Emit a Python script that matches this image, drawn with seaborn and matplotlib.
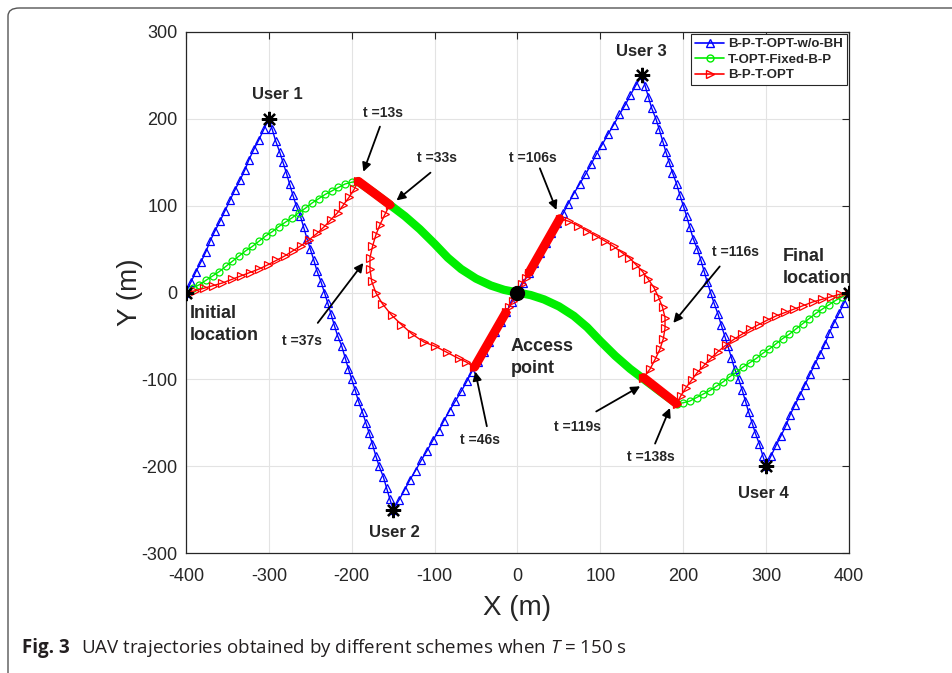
import matplotlib
matplotlib.use('Agg')
import matplotlib.pyplot as plt
import seaborn as sns
from matplotlib.lines import Line2D
from matplotlib.patches import FancyBboxPatch

blue_x = [-400, -394, -388, -382, -376, -371, -365, -359, -353, -347, -341, -335, -329, -324, -318, -312, -306,
          -300, -296, -292, -287, -283, -279, -275, -271, -267, -262, -258, -254, -250, -246, -242, -237, -233,
          -229, -225, -221, -217, -212, -208, -204, -200, -196, -192, -187, -183, -179, -175, -171, -167, -162,
          -158, -154, -150, -143, -136, -130, -123, -116, -109, -102, -95, -89, -82, -75, -68, -61, -55, -48,
          -41, -34, -27, -20, -14, -7, 0, 7, 14, 20, 27, 34, 41, 48, 55, 61, 68, 75, 82, 89, 95, 102, 109, 116,
          123, 130, 136, 143, 150, 154, 158, 162, 167, 171, 175, 179, 183, 187, 192, 196, 200, 204, 208, 212,
          217, 221, 225, 229, 233, 237, 242, 246, 250, 254, 258, 262, 267, 271, 275, 279, 283, 287, 292, 296,
          300, 306, 312, 318, 324, 329, 335, 341, 347, 353, 359, 365, 371, 376, 382, 388, 394, 400]
blue_y = [0, 12, 24, 35, 47, 59, 71, 82, 94, 106, 118, 129, 141, 153, 165, 176, 188,
          200, 188, 175, 162, 150, 138, 125, 112, 100, 88, 75, 62, 50, 38, 25, 12, 0,
          -12, -25, -38, -50, -62, -75, -88, -100, -112, -125, -138, -150, -162, -175, -188, -200, -212,
          -225, -238, -250, -239, -227, -216, -205, -193, -182, -170, -159, -148, -136, -125, -114, -102, -91, -80,
          -68, -57, -45, -34, -23, -11, 0, 11, 23, 34, 45, 57, 68, 80, 91, 102, 114, 125, 136, 148, 159, 170,
          182, 193, 205, 216, 227, 239, 250, 238, 225, 212, 200, 188, 175, 162, 150, 138, 125, 112, 100, 88,
          75, 62, 50, 38, 25, 12, 0, -12, -25, -38, -50, -62, -75, -88, -100, -112, -125, -138, -150, -162,
          -175, -188, -200, -188, -176, -165, -153, -141, -129, -118, -106, -94, -82, -71, -59, -47, -35, -24, -12, 0]

# green: T-OPT-Fixed-B-P, circle parts at both ends
green_in_x = [-400, -392, -384, -376, -368, -360, -352, -344, -336, -328, -320, -312, -304, -296, -288, -280,
              -272, -264, -256, -248, -240, -232, -224, -216, -208, -200, -193]
green_in_y = [0, 5, 9, 14, 19, 24, 30, 36, 42, 48, 53, 59, 65, 70, 76, 81, 86, 92, 97, 103, 108, 113, 117,
              121, 125, 127, 128]
green_out_x = [192, 200, 208, 216, 224, 232, 240, 248, 256, 264, 272, 280, 288, 296, 304, 312, 320, 328, 336,
               344, 352, 360, 368, 376, 384, 392, 400]
green_out_y = [-128, -127, -125, -121, -117, -113, -108, -103, -97, -92, -86, -81, -76, -70, -65, -59, -53,
               -48, -42, -36, -30, -24, -19, -14, -9, -5, 0]
# green hovering part (dense markers -> thick band)
green_hov_x = [-193, -172, -154, -136, -118, -100, -84, -68, -50, -32, -16, 0, 16, 32, 50, 68, 84, 100, 118,
               136, 154, 172, 192]
green_hov_y = [128, 114, 101, 88, 73, 56, 40, 27, 16, 8, 3, 0, -3, -8, -16, -27, -40, -56, -73, -88, -101,
               -114, -128]

# red: B-P-T-OPT
red_x = [-400, -389, -378, -367, -356, -345, -334, -323, -312, -301, -291, -281, -271, -261, -251, -242, -233,
         -225, -217, -210, -203, -197, -192,
         -154, -160, -166, -171, -175, -178, -178, -176, -171, -163, -152, -140, -127, -113, -99, -85, -71, -62, -52,
         -14, -10, -6, -2, 2, 6, 10, 14,
         51, 62, 73, 84, 95, 106, 116, 126, 135, 143, 151, 158, 165, 170, 175, 178, 178, 176, 172, 166, 160, 152,
         192, 197, 203, 210, 217, 225, 233, 242, 251, 261, 271, 281, 291, 301, 312, 323, 334, 345, 356, 367, 378,
         389, 400]
red_y = [0, 2, 5, 8, 11, 15, 19, 23, 27, 32, 37, 42, 48, 54, 61, 68, 76, 84, 92, 101, 110, 119, 128,
         101, 90, 78, 66, 53, 40, 27, 13, 0, -13, -26, -37, -48, -57, -62, -69, -76, -80, -86,
         -23, -17, -10, -3, 3, 10, 17, 23,
         85, 82, 77, 71, 65, 59, 53, 46, 40, 32, 24, 15, 5, -5, -17, -29, -41, -53, -65, -77, -88, -98,
         -128, -119, -110, -101, -92, -84, -76, -68, -61, -54, -48, -42, -37, -32, -27, -23, -19, -15, -11, -8,
         -5, -2, 0]
# red hovering segments
red_hov = [([-192, -154], [128, 101]), ([-52, -14], [-86, -23]), ([14, 51], [23, 85]), ([152, 192], [-98, -128])]

star_x = [-300, -150, 150, 300, -400, 400]
star_y = [200, -250, 250, -200, 0, 0]

users = ['User 1', 'User 2', 'User 3', 'User 4']
user_pos = [(-290, 228), (-148, -276), (149, 277), (297, -232)]

t_labels = ['t =13s', 't =33s', 't =37s', 't =46s', 't =106s', 't =116s', 't =119s', 't =138s']
t_text = [(-162, 207), (-97, 155), (-260, -56), (-45, -170), (18, 155), (263, 47), (72, -155), (161, -190)]
t_tail = [(-166, 191), (-105, 138), (-241, -35), (-37, -154), (27, 143), (244, 30), (95, -137), (166, -174)]
t_tip = [(-186, 139), (-146, 106), (-186, 34), (-51, -91), (47, 95), (188, -35), (148, -108), (184, -133)]

sns.set_style('whitegrid')
plt.rcParams['font.family'] = ['Liberation Sans', 'DejaVu Sans']
plt.rcParams['axes.unicode_minus'] = False
plt.rcParams['mathtext.fontset'] = 'custom'
plt.rcParams['mathtext.it'] = 'Open Sans:italic'
plt.rcParams['mathtext.rm'] = 'Open Sans'

fig = plt.figure(figsize=(9.53, 6.73), dpi=100)
ax = fig.add_axes([186 / 953, 120 / 673, 663 / 953, 521 / 673])

mk = dict(markerfacecolor='none', markeredgewidth=0.9)
sns.lineplot(x=blue_x, y=blue_y, sort=False, estimator=None, ax=ax, color='#0000ff', lw=1,
             marker='^', markersize=5.8, markeredgecolor='#0000ff', **mk)

sns.lineplot(x=green_hov_x, y=green_hov_y, sort=False, estimator=None, ax=ax, color='#00ee00', lw=6,
             solid_capstyle='round', solid_joinstyle='round')
for gx, gy in [(green_in_x, green_in_y), (green_out_x, green_out_y)]:
    sns.lineplot(x=gx, y=gy, sort=False, estimator=None, ax=ax, color='#00ee00', lw=1,
                 marker='o', markersize=5, markeredgecolor='#00ee00', **mk)

sns.lineplot(x=red_x, y=red_y, sort=False, estimator=None, ax=ax, color='#ff0000', lw=1,
             marker='>', markersize=5.8, markeredgecolor='#ff0000', **mk)
for hx, hy in red_hov:
    sns.lineplot(x=hx, y=hy, sort=False, estimator=None, ax=ax, color='#ff0000', lw=6.5,
                 solid_capstyle='round')

ax.plot(star_x, star_y, ls='none', marker=(8, 2, 0), markersize=11, color='k', markeredgewidth=1.6, zorder=5)
ax.plot([0], [0], ls='none', marker='o', markersize=10, color='k', zorder=6)

for name, (ux, uy) in zip(users, user_pos):
    ax.text(ux, uy, name, fontsize=12, fontweight='bold', ha='center', va='center')
ax.text(-395, -37, 'Initial\nlocation', fontsize=13, fontweight='bold', ha='left', va='center', linespacing=1.35)
ax.text(320, 29, 'Final\nlocation', fontsize=13, fontweight='bold', ha='left', va='center', linespacing=1.35)
ax.text(-8, -75, 'Access\npoint', fontsize=13, fontweight='bold', ha='left', va='center', linespacing=1.35)

for lab, txt, tail, tip in zip(t_labels, t_text, t_tail, t_tip):
    ax.text(txt[0], txt[1], lab, fontsize=10, fontweight='bold', ha='center', va='center')
    ax.annotate('', xy=tip, xytext=tail,
                arrowprops=dict(arrowstyle='-|>', color='k', lw=1.3, mutation_scale=13, shrinkA=0, shrinkB=0))

ax.set_xlim(-400, 400)
ax.set_ylim(-300, 300)
ax.set_xticks(range(-400, 401, 100))
ax.set_yticks(range(-300, 301, 100))
ax.tick_params(direction='in', length=5, width=0.8, top=True, right=True, labelsize=13,
               colors='#262626')
ax.tick_params(axis='x', pad=11)
ax.tick_params(axis='y', pad=6)
ax.grid(True, color='#e3e3e3', lw=0.8)
for s in ax.spines.values():
    s.set_color('#262626')
    s.set_linewidth(0.9)
ax.set_xlabel('X (m)', fontsize=20, color='#262626', labelpad=7)
ax.set_ylabel('Y (m)', fontsize=20, color='#262626', labelpad=-1)

handles = [Line2D([], [], color='#0000ff', marker='^', markersize=6, mfc='none', lw=1.2),
           Line2D([], [], color='#00ee00', marker='o', markersize=5, mfc='none', lw=1.2),
           Line2D([], [], color='#ff0000', marker='>', markersize=6, mfc='none', lw=1.2)]
leg = ax.legend(handles, ['B-P-T-OPT-w/o-BH', 'T-OPT-Fixed-B-P', 'B-P-T-OPT'], loc='upper right',
                bbox_to_anchor=(1.0, 1.0), borderaxespad=0.15, fancybox=False, framealpha=1,
                edgecolor='#262626', prop={'weight': 'bold', 'size': 9.5}, handlelength=2.2,
                handletextpad=0.3, labelspacing=0.25, borderpad=0.3)
leg.get_frame().set_linewidth(0.8)

frame = FancyBboxPatch((8 / 953, -0.05), 1.2, 1.05 - 8 / 673, transform=fig.transFigure,
                       boxstyle='round,pad=0,rounding_size=0.012', facecolor='none',
                       edgecolor='#555555', lw=1.0)
fig.patches.append(frame)

fig.text(22 / 953, 1 - 648 / 673, 'Fig. 3', fontsize=13.5, fontweight='bold', va='center',
         family=['Open Sans', 'DejaVu Sans'], color='#231f20')
fig.text(81 / 953, 1 - 648 / 673, 'UAV trajectories obtained by different schemes when $T$ = 150 s',
         fontsize=13.5, va='center', family=['Open Sans', 'DejaVu Sans'], color='#231f20')

fig.savefig('out.png', dpi=100)
